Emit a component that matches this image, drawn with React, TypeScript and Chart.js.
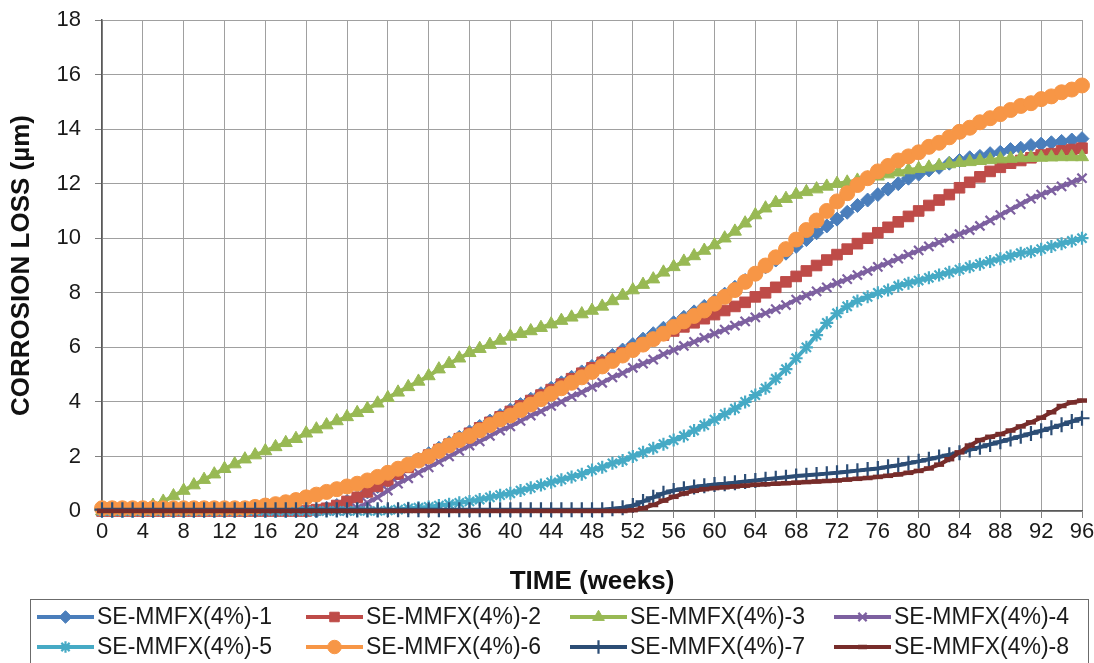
import React, { useEffect, useRef } from 'react';
import { Chart, registerables } from 'chart.js';
import { drawPoint } from 'chart.js/helpers';

Chart.register(...registerables);

const weeks = [
  0, 1, 2, 3, 4, 5, 6, 7, 8, 9, 10, 11, 12, 13, 14, 15, 16, 17, 18, 19,
  20, 21, 22, 23, 24, 25, 26, 27, 28, 29, 30, 31, 32, 33, 34, 35, 36, 37, 38, 39,
  40, 41, 42, 43, 44, 45, 46, 47, 48, 49, 50, 51, 52, 53, 54, 55, 56, 57, 58, 59,
  60, 61, 62, 63, 64, 65, 66, 67, 68, 69, 70, 71, 72, 73, 74, 75, 76, 77, 78, 79,
  80, 81, 82, 83, 84, 85, 86, 87, 88, 89, 90, 91, 92, 93, 94, 95, 96,
];

const seriesNames = [
  'SE-MMFX(4%)-1', 'SE-MMFX(4%)-2', 'SE-MMFX(4%)-3', 'SE-MMFX(4%)-4',
  'SE-MMFX(4%)-5', 'SE-MMFX(4%)-6', 'SE-MMFX(4%)-7', 'SE-MMFX(4%)-8',
];

const s1 = [
  0, 0, 0, 0, 0, 0, 0, 0, 0, 0,
  0, 0, 0, 0, 0, 0, 0, 0, 0, 0,
  0, 0, 0.1, 0.2, 0.35, 0.5, 0.7, 0.9, 1.15, 1.4,
  1.65, 1.9, 2.1, 2.3, 2.5, 2.7, 2.9, 3.1, 3.3, 3.5,
  3.7, 3.9, 4.1, 4.3, 4.5, 4.7, 4.9, 5.1, 5.3, 5.5,
  5.7, 5.9, 6.1, 6.3, 6.5, 6.7, 6.9, 7.1, 7.3, 7.5,
  7.7, 7.95, 8.2, 8.45, 8.7, 8.95, 9.2, 9.45, 9.7, 9.95,
  10.2, 10.45, 10.7, 10.95, 11.2, 11.4, 11.6, 11.8, 12.0, 12.2,
  12.35, 12.5, 12.6, 12.75, 12.85, 12.95, 13.0, 13.1, 13.15, 13.25,
  13.3, 13.4, 13.45, 13.5, 13.55, 13.6, 13.65,
];

const s2 = [
  0, 0, 0, 0, 0, 0, 0, 0, 0, 0,
  0, 0, 0, 0, 0, 0, 0, 0, 0, 0,
  0, 0.05, 0.1, 0.2, 0.35, 0.5, 0.7, 0.9, 1.1, 1.35,
  1.6, 1.85, 2.05, 2.25, 2.45, 2.65, 2.85, 3.05, 3.25, 3.45,
  3.65, 3.85, 4.05, 4.25, 4.45, 4.65, 4.85, 5.05, 5.25, 5.45,
  5.6, 5.8, 5.95, 6.15, 6.3, 6.45, 6.6, 6.75, 6.9, 7.05,
  7.2, 7.35, 7.5, 7.65, 7.85, 8.0, 8.2, 8.4, 8.6, 8.8,
  9.0, 9.2, 9.4, 9.6, 9.8, 10.0, 10.2, 10.4, 10.6, 10.8,
  11.0, 11.2, 11.4, 11.6, 11.85, 12.05, 12.25, 12.45, 12.6, 12.75,
  12.85, 12.95, 13.05, 13.1, 13.2, 13.25, 13.3,
];

const s3 = [
  0, 0, 0, 0.02, 0.08, 0.2, 0.35, 0.55, 0.75, 0.95,
  1.15, 1.35, 1.55, 1.72, 1.9, 2.05, 2.2, 2.35, 2.5, 2.65,
  2.85, 3.0, 3.15, 3.3, 3.45, 3.6, 3.75, 3.95, 4.15, 4.35,
  4.55, 4.75, 4.95, 5.2, 5.4, 5.6, 5.8, 5.95, 6.1, 6.25,
  6.4, 6.5, 6.6, 6.72, 6.85, 6.98, 7.1, 7.22, 7.35, 7.5,
  7.7, 7.9, 8.1, 8.3, 8.5, 8.75, 8.95, 9.15, 9.35, 9.55,
  9.75, 10.0, 10.25, 10.55, 10.85, 11.1, 11.3, 11.45, 11.6, 11.7,
  11.8, 11.9, 12.0, 12.05, 12.12, 12.2, 12.27, 12.35, 12.42, 12.5,
  12.55, 12.6, 12.66, 12.72, 12.77, 12.8, 12.84, 12.87, 12.9, 12.92,
  12.94, 12.95, 12.96, 12.97, 12.98, 12.98, 12.98,
];

const s4 = [
  0, 0, 0, 0, 0, 0, 0, 0, 0, 0,
  0, 0, 0, 0, 0, 0, 0, 0, 0, 0,
  0, 0, 0, 0, 0, 0.1, 0.3, 0.5, 0.75, 1.0,
  1.2, 1.4, 1.6, 1.8, 2.0, 2.2, 2.4, 2.55, 2.75, 2.95,
  3.1, 3.3, 3.5, 3.65, 3.85, 4.0, 4.2, 4.35, 4.55, 4.7,
  4.9, 5.05, 5.25, 5.4, 5.55, 5.75, 5.9, 6.05, 6.2, 6.35,
  6.5, 6.65, 6.8, 6.95, 7.1, 7.25, 7.4, 7.55, 7.75, 7.9,
  8.05, 8.2, 8.35, 8.5, 8.65, 8.8, 8.95, 9.1, 9.25, 9.4,
  9.55, 9.7, 9.85, 10.0, 10.15, 10.3, 10.45, 10.65, 10.85, 11.05,
  11.25, 11.45, 11.6, 11.75, 11.9, 12.05, 12.2,
];

const s5 = [
  0, 0, 0, 0, 0, 0, 0, 0, 0, 0,
  0, 0, 0, 0, 0, 0, 0, 0, 0, 0,
  0, 0, 0, 0, 0, 0, 0, 0, 0.02, 0.05,
  0.1, 0.12, 0.15, 0.2, 0.25, 0.3, 0.35, 0.42, 0.5, 0.58,
  0.65, 0.75, 0.85, 0.95, 1.05, 1.15, 1.25, 1.35, 1.5, 1.6,
  1.75, 1.85, 2.0, 2.15, 2.3, 2.45, 2.6, 2.75, 2.95, 3.15,
  3.35, 3.55, 3.75, 4.0, 4.25, 4.5, 4.85, 5.2, 5.6, 6.0,
  6.45, 6.9, 7.25, 7.5, 7.7, 7.85, 8.0, 8.1, 8.25, 8.35,
  8.45, 8.55, 8.65, 8.75, 8.85, 8.95, 9.05, 9.15, 9.25, 9.35,
  9.45, 9.5, 9.6, 9.7, 9.8, 9.9, 10.0,
];

const s6 = [
  0.1, 0.1, 0.1, 0.1, 0.1, 0.1, 0.1, 0.1, 0.1, 0.1,
  0.1, 0.1, 0.1, 0.1, 0.1, 0.15, 0.2, 0.25, 0.32, 0.4,
  0.5, 0.6, 0.7, 0.8, 0.9, 1.0, 1.12, 1.25, 1.4, 1.55,
  1.7, 1.85, 2.0, 2.2, 2.4, 2.6, 2.75, 2.95, 3.15, 3.35,
  3.5, 3.7, 3.9, 4.1, 4.3, 4.5, 4.7, 4.9, 5.1, 5.3,
  5.5, 5.7, 5.9, 6.1, 6.3, 6.5, 6.75, 6.95, 7.15, 7.35,
  7.6, 7.85, 8.1, 8.4, 8.7, 9.0, 9.3, 9.6, 9.95, 10.3,
  10.65, 11.0, 11.35, 11.65, 11.95, 12.2, 12.45, 12.65, 12.85, 13.0,
  13.15, 13.35, 13.5, 13.7, 13.9, 14.05, 14.25, 14.4, 14.55, 14.7,
  14.85, 14.95, 15.1, 15.2, 15.35, 15.45, 15.6,
];

const s7 = [
  0.05, 0.05, 0.05, 0.05, 0.05, 0.05, 0.05, 0.05, 0.05, 0.05,
  0.05, 0.05, 0.05, 0.05, 0.05, 0.05, 0.05, 0.05, 0.05, 0.05,
  0.05, 0.05, 0.05, 0.05, 0.05, 0.05, 0.05, 0.05, 0.05, 0.05,
  0.05, 0.05, 0.05, 0.05, 0.05, 0.05, 0.05, 0.05, 0.05, 0.05,
  0.05, 0.05, 0.05, 0.05, 0.05, 0.05, 0.05, 0.05, 0.05, 0.05,
  0.08, 0.12, 0.2, 0.35, 0.5, 0.65, 0.75, 0.82, 0.88, 0.93,
  0.97, 1.0, 1.04, 1.08, 1.12, 1.16, 1.2, 1.24, 1.28, 1.31,
  1.34, 1.37, 1.4, 1.44, 1.48, 1.52, 1.56, 1.62, 1.68, 1.75,
  1.82, 1.9, 1.98, 2.06, 2.14, 2.24, 2.34, 2.44, 2.54, 2.64,
  2.74, 2.84, 2.94, 3.05, 3.16, 3.28, 3.4,
];

const s8 = [
  0, 0, 0, 0, 0, 0, 0, 0, 0, 0,
  0, 0, 0, 0, 0, 0, 0, 0, 0, 0,
  0, 0, 0, 0, 0, 0, 0, 0, 0, 0,
  0, 0, 0, 0, 0, 0, 0, 0, 0, 0,
  0, 0, 0, 0, 0, 0, 0, 0, 0, 0,
  0, 0, 0.03, 0.1, 0.22, 0.38, 0.52, 0.64, 0.74, 0.8,
  0.84, 0.87, 0.9, 0.93, 0.96, 0.98, 1.0, 1.02, 1.04, 1.06,
  1.08, 1.1, 1.12, 1.15, 1.18, 1.21, 1.25, 1.29, 1.34, 1.4,
  1.47, 1.56, 1.7, 1.9, 2.15, 2.4, 2.6, 2.72, 2.82, 2.95,
  3.1, 3.25, 3.42, 3.62, 3.85, 3.98, 4.05,
];

const seriesValues = [s1, s2, s3, s4, s5, s6, s7, s8];

const colors = ['#4A7EBB', '#BE4B48', '#98B954', '#7D60A0', '#46AAC5', '#F79646', '#2C4D75', '#772C2A'];
const pointStyles = ['rectRot', 'rect', 'triangle', 'crossRot', 'star', 'circle', 'cross', 'line'];
const pointRadii = [7, 7.5, 7.5, 6.5, 6.5, 7.5, 7.5, 5];
const pointBorders = [1, 1, 1, 2.2, 2.2, 1, 2.2, 4.5];

const FONT = "'Liberation Sans', Arial, sans-serif";

const legendPlugin = {
  id: 'boxLegend',
  afterDraw(chart: any) {
    const ctx = chart.ctx;
    ctx.save();
    ctx.strokeStyle = '#6b6b6b';
    ctx.lineWidth = 1;
    ctx.strokeRect(30.5, 599.5, 1058, 100);
    const colX = [37, 306, 570, 834];
    const rowY = [617, 647];
    for (let i = 0; i < seriesNames.length; i++) {
      const x0 = colX[i % 4];
      const y = rowY[Math.floor(i / 4)];
      ctx.strokeStyle = colors[i];
      ctx.lineWidth = 4;
      ctx.beginPath();
      ctx.moveTo(x0, y);
      ctx.lineTo(x0 + 57, y);
      ctx.stroke();
      ctx.fillStyle = colors[i];
      ctx.strokeStyle = colors[i];
      ctx.lineWidth = pointBorders[i];
      drawPoint(ctx, { pointStyle: pointStyles[i], radius: pointRadii[i] * 0.9, rotation: 0, borderWidth: pointBorders[i] } as any, x0 + 28.5, y);
      ctx.fillStyle = '#1a1a1a';
      ctx.font = `23px ${FONT}`;
      ctx.textAlign = 'left';
      ctx.textBaseline = 'middle';
      ctx.fillText(seriesNames[i], x0 + 60, y + 1);
    }
    ctx.restore();
  },
};

export default function App() {
  const ref = useRef<HTMLCanvasElement | null>(null);

  useEffect(() => {
    document.body.style.margin = '0';
    if (!ref.current) return;
    const datasets = seriesValues.map((vals, i) => ({
      label: seriesNames[i],
      data: weeks.map((w, j) => ({ x: w, y: vals[j] })),
      borderColor: colors[i],
      backgroundColor: colors[i],
      borderWidth: 4,
      pointStyle: pointStyles[i],
      pointRadius: pointRadii[i],
      pointBorderWidth: pointBorders[i],
      pointBackgroundColor: colors[i],
      pointBorderColor: colors[i],
      tension: 0,
      clip: false,
      order: 7 - i,
    }));
    const chart = new Chart(ref.current, {
      type: 'line',
      data: { datasets },
      options: {
        animation: false,
        responsive: false,
        devicePixelRatio: 1,
        events: [],
        layout: { padding: { left: 0, right: 12, top: 20, bottom: 65 } },
        plugins: { legend: { display: false }, tooltip: { enabled: false } },
        scales: {
          x: {
            type: 'linear',
            min: 0,
            max: 96,
            afterFit: (s: any) => {
              s.height = 87;
              s.paddingLeft = 0;
              s.paddingRight = 0;
            },
            ticks: {
              stepSize: 4,
              autoSkip: false,
              maxRotation: 0,
              padding: 1,
              color: '#1a1a1a',
              font: { family: FONT, size: 22 },
            },
            grid: { color: '#a0a0a0', lineWidth: 1, tickLength: 7, tickColor: '#808080' },
            border: { color: '#595959', width: 1.5 },
            title: {
              display: true,
              text: 'TIME (weeks)',
              color: '#111111',
              font: { family: FONT, size: 26, weight: 'bold' },
              padding: { top: 0, bottom: 1 },
            },
          },
          y: {
            min: 0,
            max: 18,
            afterFit: (s: any) => {
              s.width = 102;
              s.paddingTop = 0;
              s.paddingBottom = 0;
            },
            ticks: {
              stepSize: 2,
              padding: 14,
              color: '#1a1a1a',
              font: { family: FONT, size: 22 },
            },
            grid: { color: '#a0a0a0', lineWidth: 1, tickLength: 7, tickColor: '#808080' },
            border: { color: '#595959', width: 1.5 },
            title: {
              display: true,
              text: 'CORROSION LOSS (µm)',
              color: '#111111',
              font: { family: FONT, size: 26, weight: 'bold' },
              padding: { top: 6, bottom: 0 },
            },
          },
        },
      } as any,
      plugins: [legendPlugin],
    });
    return () => chart.destroy();
  }, []);

  return (
    <div style={{ width: 1094, height: 663, position: 'relative', overflow: 'hidden', background: '#fff' }}>
      <canvas ref={ref} width={1094} height={663} style={{ width: 1094, height: 663, display: 'block' }} />
    </div>
  );
}
